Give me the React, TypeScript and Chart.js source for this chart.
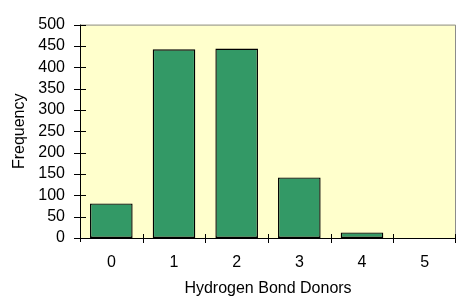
import React, { useEffect, useRef } from "react";
import { Chart, registerables } from "chart.js";

Chart.register(...registerables);

const categories = ["0", "1", "2", "3", "4", "5"];
const frequencies = [81, 442, 444, 142, 13, 0];
const yTicksMax = 500;
const yStep = 50;
const xTitle = "Hydrogen Bond Donors";
const yTitle = "Frequency";

const FONT = "'Liberation Sans', Arial, sans-serif";

const frame = {
  id: "frame",
  beforeDraw(chart: any) {
    const { ctx, chartArea: a } = chart;
    ctx.save();
    ctx.fillStyle = "#FFFFCC";
    ctx.fillRect(a.left, a.top, a.right - a.left, a.bottom - a.top);
    ctx.restore();
  },
  afterDraw(chart: any) {
    const { ctx, chartArea: a } = chart;
    const xs = chart.scales.x;
    const ys = chart.scales.y;
    ctx.save();
    ctx.strokeStyle = "#8c8c8c";
    ctx.lineWidth = 1;
    ctx.beginPath();
    ctx.moveTo(a.left, a.top + 0.5);
    ctx.lineTo(a.right - 0.5, a.top + 0.5);
    ctx.lineTo(a.right - 0.5, a.bottom);
    ctx.stroke();
    ctx.strokeStyle = "#000";
    ctx.beginPath();
    ctx.moveTo(a.left + 0.5, a.top);
    ctx.lineTo(a.left + 0.5, a.bottom + 4);
    ctx.moveTo(a.left - 6, a.bottom + 0.5);
    ctx.lineTo(a.right, a.bottom + 0.5);
    ctx.stroke();
    ctx.beginPath();
    ys.ticks.forEach((_t: any, i: number) => {
      const y = Math.round(ys.getPixelForTick(i)) + 0.5;
      ctx.moveTo(a.left - 6, y);
      ctx.lineTo(a.left + 6, y);
    });
    const n = xs.ticks.length;
    for (let i = 0; i < n; i++) {
      let x: number;
      if (i < n - 1) x = (xs.getPixelForTick(i) + xs.getPixelForTick(i + 1)) / 2;
      else x = a.right - 1;
      x = Math.round(x) + 0.5;
      ctx.moveTo(x, a.bottom - 4);
      ctx.lineTo(x, a.bottom + 5);
    }
    ctx.stroke();
    ctx.restore();
  },
};

export default function App() {
  const ref = useRef<HTMLCanvasElement | null>(null);
  useEffect(() => {
    if (!ref.current) return;
    const chart = new Chart(ref.current, {
      type: "bar",
      data: {
        labels: categories,
        datasets: [
          {
            data: frequencies,
            backgroundColor: "#339966",
            borderColor: "#000",
            borderWidth: 1.4,
            borderSkipped: false,
            barPercentage: 0.68,
            categoryPercentage: 1,
          },
        ],
      },
      options: {
        animation: false,
        responsive: false,
        maintainAspectRatio: false,
        layout: { padding: { top: 18, right: 1, bottom: 0, left: 0 } },
        plugins: {
          legend: { display: false },
          tooltip: { enabled: false },
          title: { display: false },
        },
        scales: {
          x: {
            offset: true,
            grid: { display: false, drawTicks: false },
            border: { display: false },
            ticks: {
              color: "#000",
              font: { family: FONT, size: 16 },
              padding: 15,
              maxRotation: 0,
              autoSkip: false,
            },
            title: {
              display: true,
              text: xTitle,
              color: "#000",
              font: { family: FONT, size: 16, lineHeight: 1 },
              padding: { top: 0, bottom: 1 },
            },
            afterFit(scale: any) {
              scale.height = 60;
            },
          },
          y: {
            min: 0,
            max: yTicksMax,
            grid: { display: false, drawTicks: false },
            border: { display: false },
            ticks: {
              stepSize: yStep,
              color: "#000",
              font: { family: FONT, size: 16 },
              padding: 15,
              autoSkip: false,
            },
            title: {
              display: true,
              text: yTitle,
              color: "#000",
              font: { family: FONT, size: 16, lineHeight: 1.2 },
              padding: { top: 10, bottom: 0 },
            },
            afterFit(scale: any) {
              scale.width = 80;
            },
          },
        },
      },
      plugins: [frame],
    });
    return () => chart.destroy();
  }, []);
  return (
    <div style={{ position: "fixed", left: 0, top: 0, width: 457, height: 298, background: "#fff" }}>
      <canvas ref={ref} width={457} height={298} style={{ width: 457, height: 298, display: "block" }} />
    </div>
  );
}
